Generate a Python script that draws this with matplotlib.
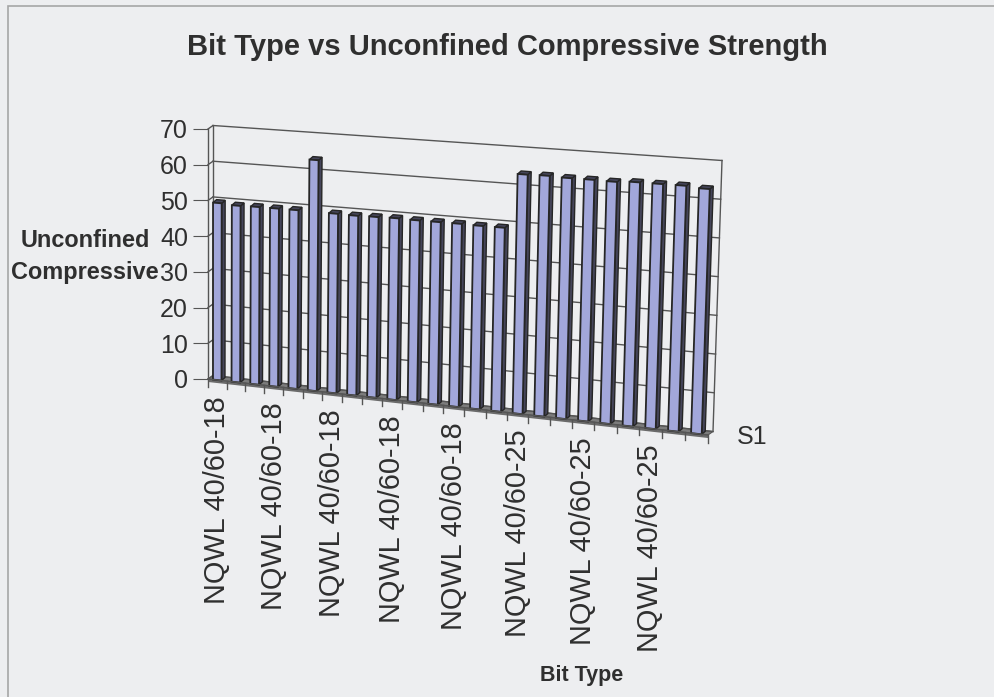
import numpy as np
import matplotlib.pyplot as plt
from matplotlib.transforms import Transform, Affine2D, IdentityTransform
from matplotlib.patches import Polygon, Rectangle

plt.rcParams['font.family'] = ['Liberation Sans', 'DejaVu Sans']

# bit type for every test, and the measured strength
bit_types = ['NQWL 40/60-18'] * 15 + ['NQWL 40/60-25'] * 9
ucs = [49.5, 49.2, 49.3, 49.3, 49.3, 63.5, 49.2, 49.1, 49.2, 49.3, 49.2, 49.2,
       49.2, 49.1, 49.1, 63.7, 63.8, 63.6, 63.6, 63.5, 63.8, 63.8, 63.8, 63.4]
y_ticks = [0, 10, 20, 30, 40, 50, 60, 70]
series_name = 'S1'

bg = '#edeef0'
text_color = '#2f2f2f'
line_color = '#555555'
bar_face = '#a2a7da'
bar_side = '#45455a'
bar_edge = '#262626'
floor_color = '#7c7c7c'


class WallProjection(Transform):
    """Bends the axes unit square into the tilted front plane of a 3-D chart."""
    input_dims = output_dims = 2

    def __init__(self, bend, right_bottom, right_top, drop_bottom, drop_top):
        super().__init__()
        self.bend = bend
        self.rb, self.rt = right_bottom, right_top
        self.db, self.dt = drop_bottom, drop_top

    def transform_non_affine(self, values):
        values = np.asarray(values, dtype=float)
        u, v = values[..., 0], values[..., 1]
        w = u + self.bend * u * (u - 1)
        x = w * (self.rb + (self.rt - self.rb) * v)
        bottom = -self.db * w
        top = 1 - self.dt * w
        y = bottom + v * (top - bottom)
        return np.stack([x, y], axis=-1)


fig = plt.figure(figsize=(9.95, 6.97), dpi=100, facecolor=bg)
ax = fig.add_axes([208 / 995, 318 / 697, 500 / 995, 250 / 697])
ax.patch.set_visible(False)
n = len(ucs)
ax.set_xlim(0, n)
ax.set_ylim(0, 70)

persp = WallProjection(bend=0.1165, right_bottom=1.0, right_top=1.018,
                       drop_bottom=0.224, drop_top=0.14)
proj = ax.transScale + ax.transLimits + persp + ax.transAxes
wall_d = np.array([5.0, 3.5])    # depth of the back wall, pixels
bar_d = np.array([3.5, 3.0])     # depth of a column
slab = 3.0                       # thickness of the floor
back = proj + Affine2D().translate(*wall_d)
ident = IdentityTransform()


def P(x, y):
    return proj.transform((x, y))


# floor, with a thin front edge
f0, f1 = P(0, 0), P(n, 0)
ax.add_patch(Polygon([f0, f1, f1 + wall_d, f0 + wall_d], closed=True,
                     facecolor=floor_color, edgecolor=line_color, lw=0.8,
                     transform=ident, clip_on=False, zorder=1))
ax.add_patch(Polygon([f0, f1, f1 - [0, slab], f0 - [0, slab]], closed=True,
                     facecolor='#6a6a6a', edgecolor='none',
                     transform=ident, clip_on=False, zorder=1))

# back wall gridlines and side wall
for yv in y_ticks:
    ax.plot([0, n], [yv, yv], color=line_color, lw=1.0, transform=back,
            clip_on=False, zorder=2)
    a = P(0, yv)
    ax.plot([a[0], a[0] + wall_d[0]], [a[1], a[1] + wall_d[1]], color=line_color,
            lw=1.0, transform=ident, clip_on=False, zorder=2)
for xv in (0, n):
    ax.plot([xv, xv], [0, 70], color=line_color, lw=1.0, transform=back,
            clip_on=False, zorder=2)

# columns: side and top faces first, then the fronts
x = np.arange(n) + 0.5
width = 0.46
for xc, val in zip(x, ucs):
    bl, br = P(xc - width / 2, 0), P(xc + width / 2, 0)
    tl, tr = P(xc - width / 2, val), P(xc + width / 2, val)
    ax.add_patch(Polygon([br, tr, tr + bar_d, br + bar_d], closed=True,
                         facecolor=bar_side, edgecolor=bar_edge, lw=1.0,
                         transform=ident, clip_on=False, zorder=4))
    ax.add_patch(Polygon([tl, tr, tr + bar_d, tl + bar_d], closed=True,
                         facecolor=bar_side, edgecolor=bar_edge, lw=1.0,
                         transform=ident, clip_on=False, zorder=4))
ax.bar(x, ucs, width=width, color=bar_face, edgecolor=bar_edge, linewidth=1.3,
       transform=proj, clip_on=False, zorder=5)

# front edge of the floor with category ticks
ax.plot([0, n], [0, 0], color=line_color, lw=1.0, transform=proj,
        clip_on=False, zorder=6)
for i in range(n + 1):
    p = P(i, 0)
    ax.plot([p[0], p[0]], [p[1], p[1] - 8], color=line_color, lw=1.0,
            transform=ident, clip_on=False, zorder=6)

# category labels, every third one
for i in range(0, n, 3):
    ax.text(x[i], 0, bit_types[i], rotation=90, ha='center', va='top',
            fontsize=20.8, color=text_color, clip_on=False,
            transform=proj + Affine2D().translate(0, -16))
ax.text(n, 0, series_name, ha='left', va='center', fontsize=18,
        color=text_color, transform=proj + Affine2D().translate(29, -2))

# value axis on the front left edge
ax.set_yticks(y_ticks)
ax.set_xticks([])
ax.tick_params(axis='y', length=10.8, width=0.8, color=line_color,
               labelsize=18, labelcolor=text_color, pad=3.6)
for side in ('top', 'right', 'bottom'):
    ax.spines[side].set_visible(False)
ax.spines['left'].set_color(line_color)
ax.spines['left'].set_linewidth(1.0)

ax.set_ylabel('Unconfined\nCompressive', rotation=0, ha='center', va='center',
              fontsize=16.9, fontweight='bold', color=text_color, linespacing=1.45)
ax.yaxis.set_label_coords(-0.246, 0.49)

fig.text(507 / 995, 1 - 47 / 697, 'Bit Type vs Unconfined Compressive Strength',
         ha='center', va='center', fontsize=21, fontweight='bold', color=text_color)
fig.text(582 / 995, 1 - 675 / 697, 'Bit Type', ha='center', va='center',
         fontsize=15.5, fontweight='bold', color=text_color)

# chart area frame
fig.add_artist(Rectangle((8 / 995, -0.05), 1.2, 1.05 - 6 / 697, fill=False,
                         edgecolor='#a6a6a6', lw=1.2, transform=fig.transFigure))

fig.savefig('out.png', dpi=100, facecolor=bg)
